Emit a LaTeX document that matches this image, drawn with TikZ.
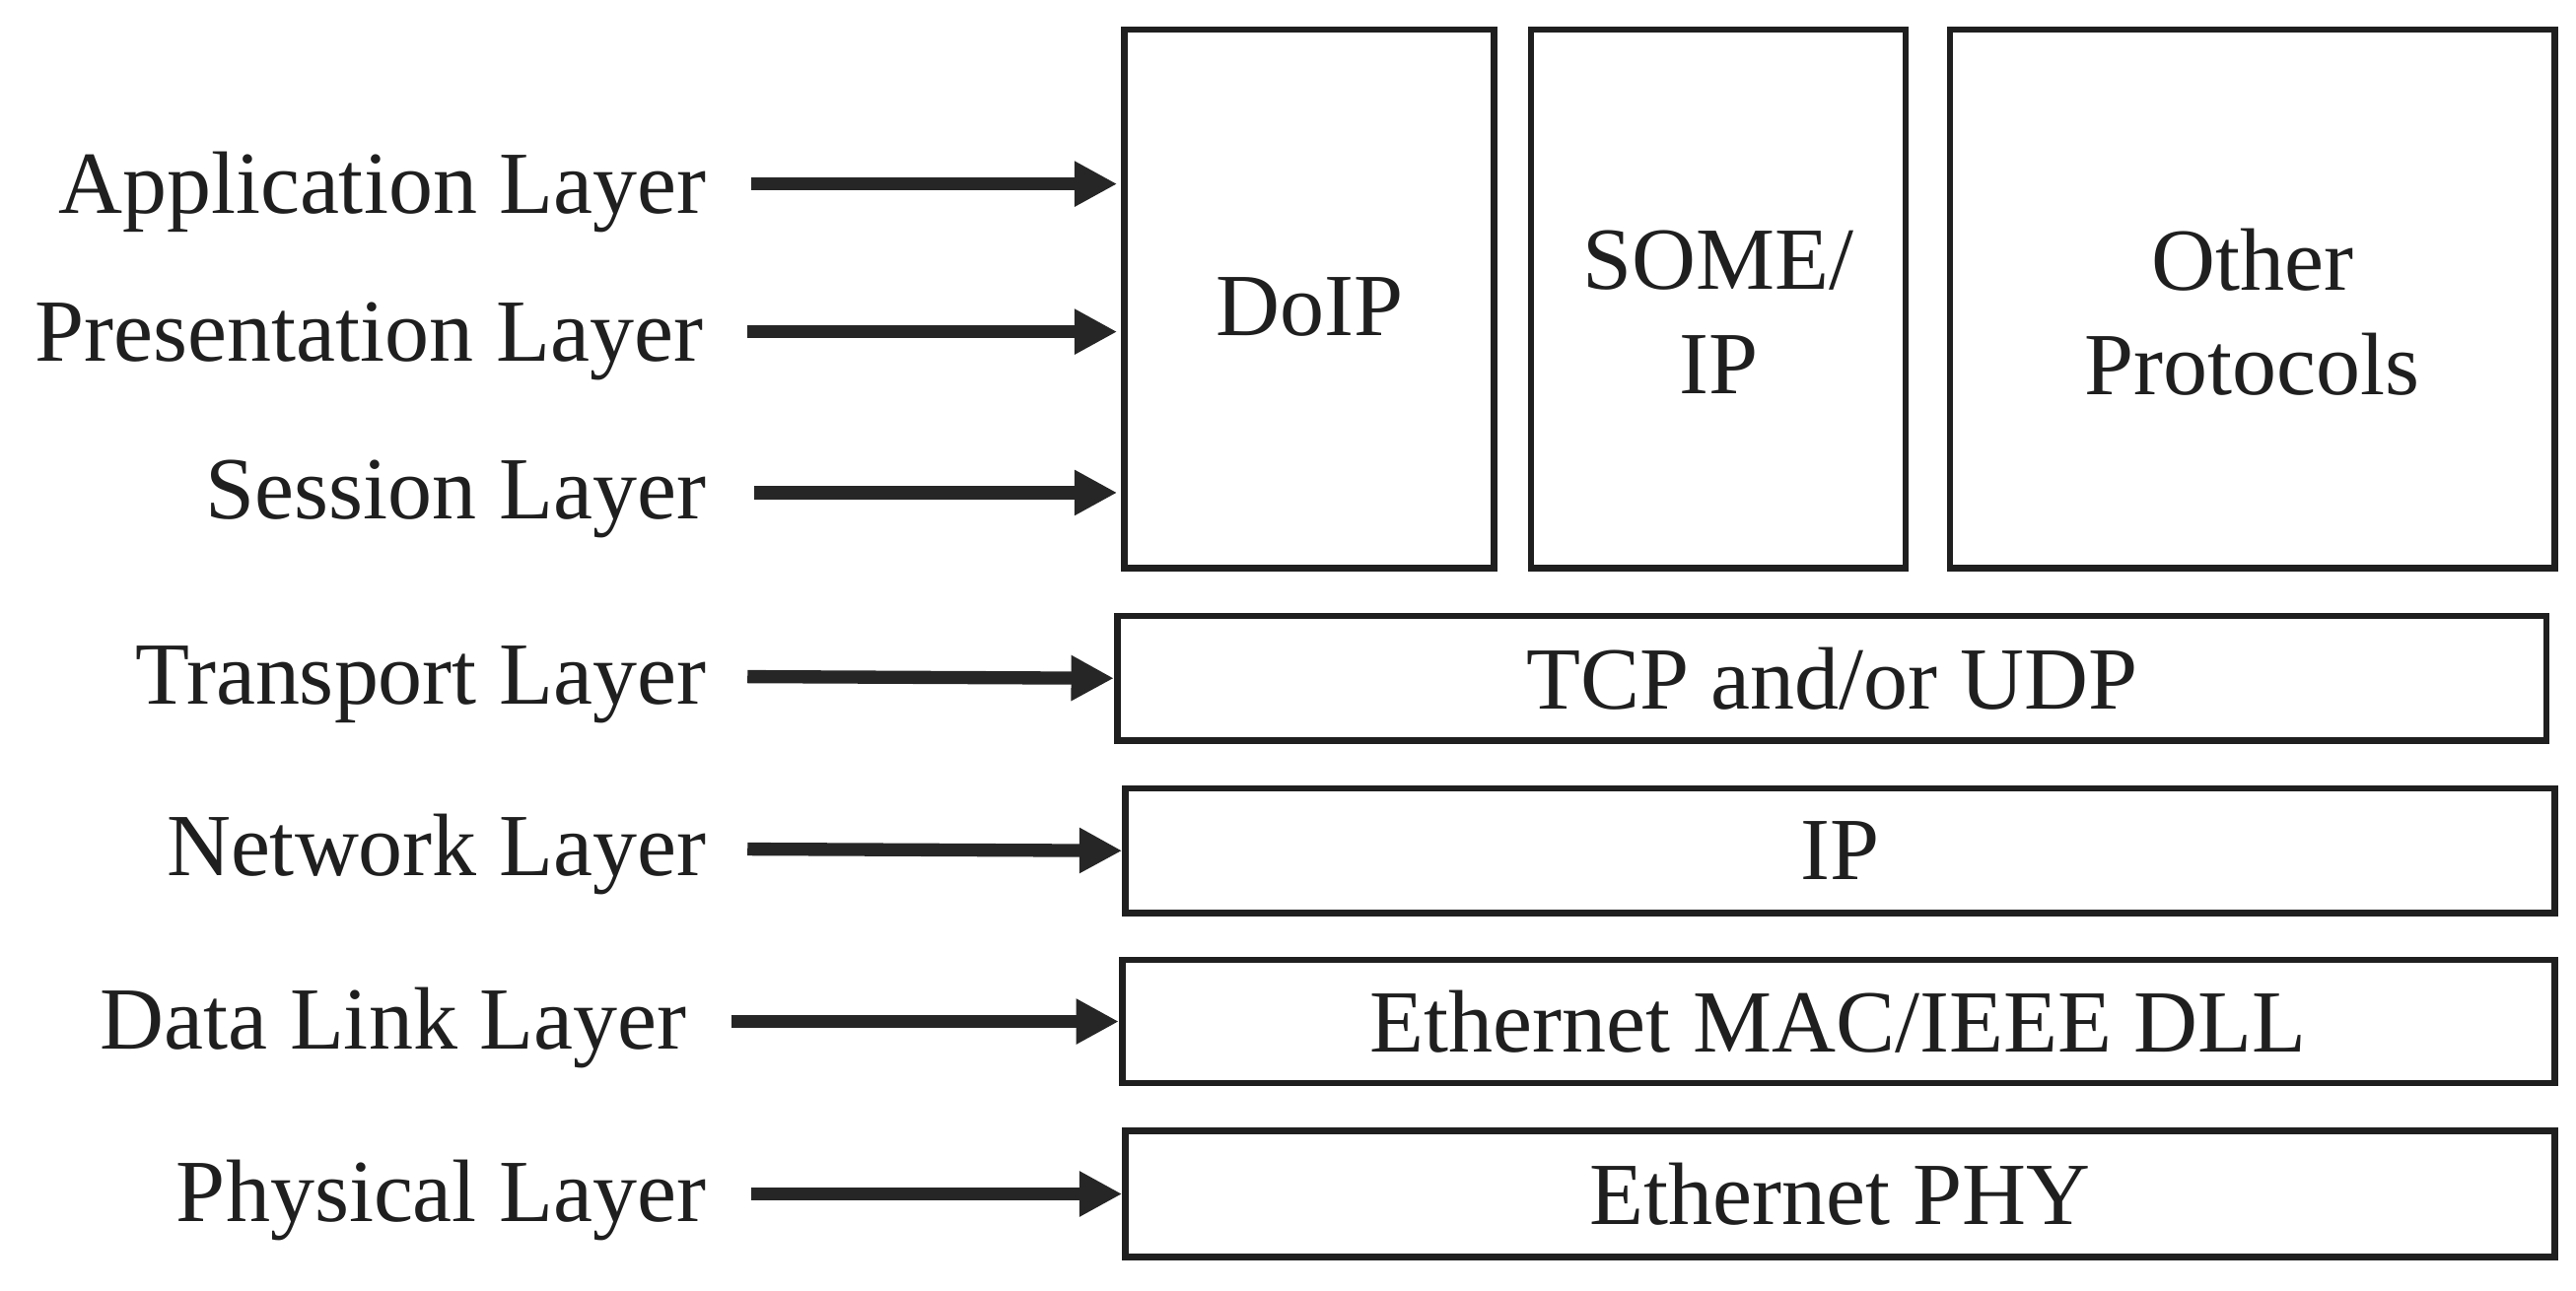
\documentclass[tikz,border=0pt]{standalone}
\usepackage{fontspec}
\setmainfont{Liberation Serif}
\usetikzlibrary{arrows.meta}
\begin{document}
\begin{tikzpicture}[x=1pt,y=-1pt,
  box/.style={draw=black!88,line width=4pt,inner sep=0pt,font=\fontsize{54}{64}\selectfont,align=center,text=black!88},
  txt/.style={font=\fontsize{54}{64}\selectfont,align=center,text=black!88},
  lab/.style={anchor=east,inner sep=0pt,font=\fontsize{54}{64}\selectfont,text=black!88},
  arr/.style={draw=black!85,line width=8pt,-{Triangle[length=26pt,width=26pt]}}]
\useasboundingbox (0,0) rectangle (1568,786);
\node[box,minimum width=225pt,minimum height=328pt] (doip) at (797,182) {};
\node[txt] at (797,187) {DoIP};
\node[box,minimum width=228pt,minimum height=328pt] (some) at (1046,182) {};
\node[txt] at (1046,190) {SOME/\\IP};
\node[box,minimum width=368pt,minimum height=328pt] (oth) at (1371,182) {};
\node[txt] at (1371,190) {Other\\Protocols};
\node[box,minimum width=870pt,minimum height=76pt] (tcp) at (1115,413) {TCP and/or UDP};
\node[box,minimum width=870pt,minimum height=76pt] (ip) at (1120,518) {IP};
\node[box,minimum width=872pt,minimum height=75pt] (mac) at (1119,622) {Ethernet MAC/IEEE DLL};
\node[box,minimum width=870pt,minimum height=77pt] (phy) at (1120,727) {Ethernet PHY};
\node[lab] (l1) at (430,117) {Application Layer};
\node[lab] (l2) at (428,208) {Presentation Layer};
\node[lab] (l3) at (430,304) {Session Layer};
\node[lab] (l4) at (430,417) {Transport Layer};
\node[lab] (l5) at (430,520) {Network Layer};
\node[lab] (l6) at (418,626) {Data Link Layer};
\node[lab] (l7) at (430,731) {Physical Layer};
\coordinate (a1) at (680,112);
\coordinate (a2) at (680,202);
\coordinate (a3) at (680,300);
\draw[arr] (457,112) -- (a1);
\draw[arr] (455,202) -- (a2);
\draw[arr] (459,300) -- (a3);
\draw[arr] (455,412) -- (tcp.west);
\draw[arr] (455,517) -- (ip.west);
\draw[arr] (445,622) -- (mac.west);
\draw[arr] (457,727) -- (phy.west);
\end{tikzpicture}
\end{document}
